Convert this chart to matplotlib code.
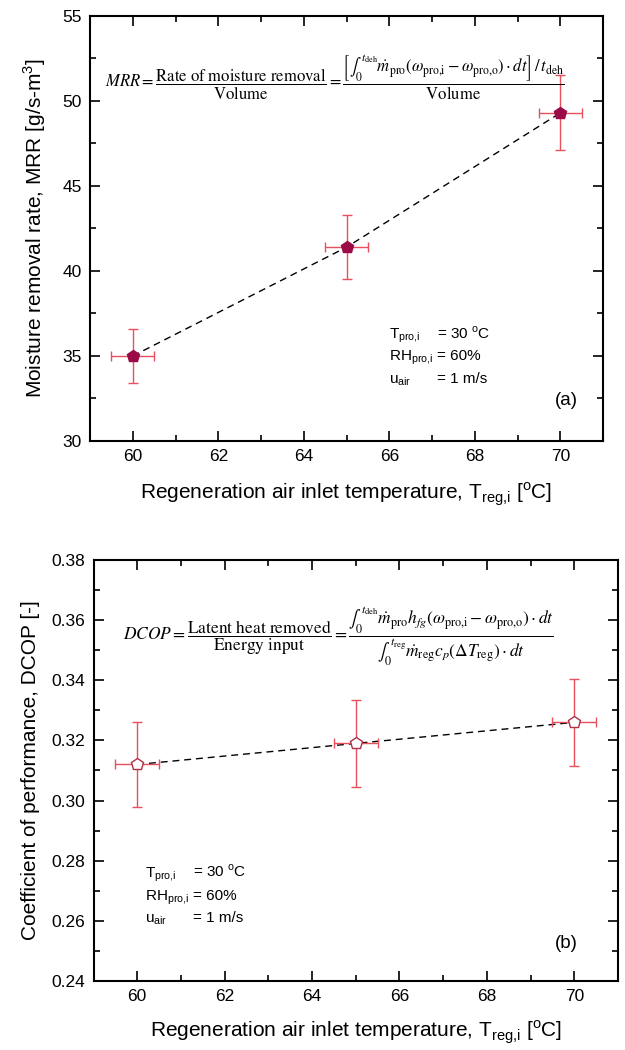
import matplotlib
matplotlib.use("Agg")
import matplotlib.pyplot as plt
from matplotlib.ticker import MultipleLocator

plt.rcParams['font.family'] = ['Liberation Sans', 'DejaVu Sans']

# Data
temps = [60, 65, 70]
temp_err = [0.5, 0.5, 0.5]
mrr = [35.0, 41.4, 49.3]
mrr_err = [1.6, 1.9, 2.2]
dcop = [0.312, 0.319, 0.326]
dcop_err = [0.014, 0.0145, 0.0145]

fig = plt.figure(figsize=(6.25, 10.5), dpi=100)
ax1 = fig.add_axes([0.144, 0.58, 0.821, 0.4048])
ax2 = fig.add_axes([0.1496, 0.0657, 0.8392, 0.401])

err_color = '#e8505f'
mk_color = '#9c0a48'

def style(ax):
    ax.tick_params(which='both', direction='in', top=True, right=True, labelsize=12.5, width=1.2)
    ax.tick_params(which='major', length=7, pad=6)
    ax.tick_params(which='minor', length=4)
    for s in ax.spines.values():
        s.set_linewidth(1.5)
    ax.set_xlim(59, 71)
    ax.xaxis.set_major_locator(MultipleLocator(2))
    ax.xaxis.set_minor_locator(MultipleLocator(1))

xlab = r'Regeneration air inlet temperature, T$_{\mathregular{reg{,}i}}$ [$^{\mathregular{o}}$C]'

# Top plot
ax1.plot(temps, mrr, ls=(0, (5, 3.5)), color='black', lw=1.0, zorder=2)
ax1.errorbar(temps, mrr, xerr=temp_err, yerr=mrr_err, fmt='none', ecolor=err_color,
             elinewidth=1.0, capsize=3.5, capthick=1.0, zorder=3)
ax1.plot(temps, mrr, ls='none', marker='p', ms=9, mfc=mk_color, mec=mk_color, zorder=4)
ax1.set_ylim(30, 55)
ax1.yaxis.set_major_locator(MultipleLocator(5))
ax1.yaxis.set_minor_locator(MultipleLocator(2.5))
style(ax1)
ax1.set_xlabel(xlab, fontsize=15, labelpad=12)
ax1.set_ylabel(r'Moisture removal rate, MRR [g/s-m$^{\mathregular{3}}$]', fontsize=15, labelpad=10)

ax1.text(0.029, 0.855,
         r'$MRR=\dfrac{\mathrm{Rate\ of\ moisture\ removal}}{\mathrm{Volume}}=\dfrac{\left[\int_0^{t_\mathrm{deh}}\dot{m}_\mathrm{pro}\left(\omega_\mathrm{pro{,}i}-\omega_\mathrm{pro{,}o}\right)\cdot dt\right]\,/\,t_\mathrm{deh}}{\mathrm{Volume}}$',
         transform=ax1.transAxes, ha='left', va='center', fontsize=12, math_fontfamily='stix')

lab_x1, eq_x1 = 0.583, 0.676
for yy, lab, val in [(0.242, r'T$_{\mathregular{pro{,}i}}$', r'= 30 $^{\mathregular{o}}$C'),
                     (0.19, r'RH$_{\mathregular{pro{,}i}}$', r'= 60%'),
                     (0.136, r'u$_{\mathregular{air}}$', r'= 1 m/s')]:
    ax1.text(lab_x1, yy, lab, transform=ax1.transAxes, fontsize=11, va='baseline')
    ax1.text(eq_x1, yy, val, transform=ax1.transAxes, fontsize=11, va='baseline')
ax1.text(0.928, 0.096, '(a)', transform=ax1.transAxes, fontsize=13.5, ha='center', va='center')

# Bottom plot
ax2.plot(temps, dcop, ls=(0, (5, 3.5)), color='black', lw=1.0, zorder=2)
ax2.errorbar(temps, dcop, xerr=temp_err, yerr=dcop_err, fmt='none', ecolor=err_color,
             elinewidth=1.0, capsize=3.5, capthick=1.0, zorder=3)
ax2.plot(temps, dcop, ls='none', marker='p', ms=9, mfc='white', mec='#b0304a', mew=1.0, zorder=4)
ax2.set_ylim(0.24, 0.38)
ax2.yaxis.set_major_locator(MultipleLocator(0.02))
ax2.yaxis.set_minor_locator(MultipleLocator(0.01))
ax2.yaxis.set_major_formatter(matplotlib.ticker.FormatStrFormatter('%.2f'))
style(ax2)
ax2.set_xlabel(xlab, fontsize=15, labelpad=10)
ax2.set_ylabel(r'Coefficient of performance, DCOP [-]', fontsize=15, labelpad=8)

ax2.text(0.056, 0.819,
         r'$DCOP=\dfrac{\mathrm{Latent\ heat\ removed}}{\mathrm{Energy\ input}}=\dfrac{\int_0^{t_\mathrm{deh}}\dot{m}_\mathrm{pro}h_{fg}\left(\omega_\mathrm{pro{,}i}-\omega_\mathrm{pro{,}o}\right)\cdot dt}{\int_0^{t_\mathrm{reg}}\dot{m}_\mathrm{reg}c_p\left(\Delta T_\mathrm{reg}\right)\cdot dt}$',
         transform=ax2.transAxes, ha='left', va='center', fontsize=12.5, math_fontfamily='stix')

lab_x2, eq_x2 = 0.098, 0.19
for yy, lab, val in [(0.247, r'T$_{\mathregular{pro{,}i}}$', r'= 30 $^{\mathregular{o}}$C'),
                     (0.192, r'RH$_{\mathregular{pro{,}i}}$', r'= 60%'),
                     (0.14, r'u$_{\mathregular{air}}$', r'= 1 m/s')]:
    ax2.text(lab_x2, yy, lab, transform=ax2.transAxes, fontsize=11, va='baseline')
    ax2.text(eq_x2, yy, val, transform=ax2.transAxes, fontsize=11, va='baseline')
ax2.text(0.901, 0.09, '(b)', transform=ax2.transAxes, fontsize=13.5, ha='center', va='center')

fig.savefig('out.png', dpi=100)
